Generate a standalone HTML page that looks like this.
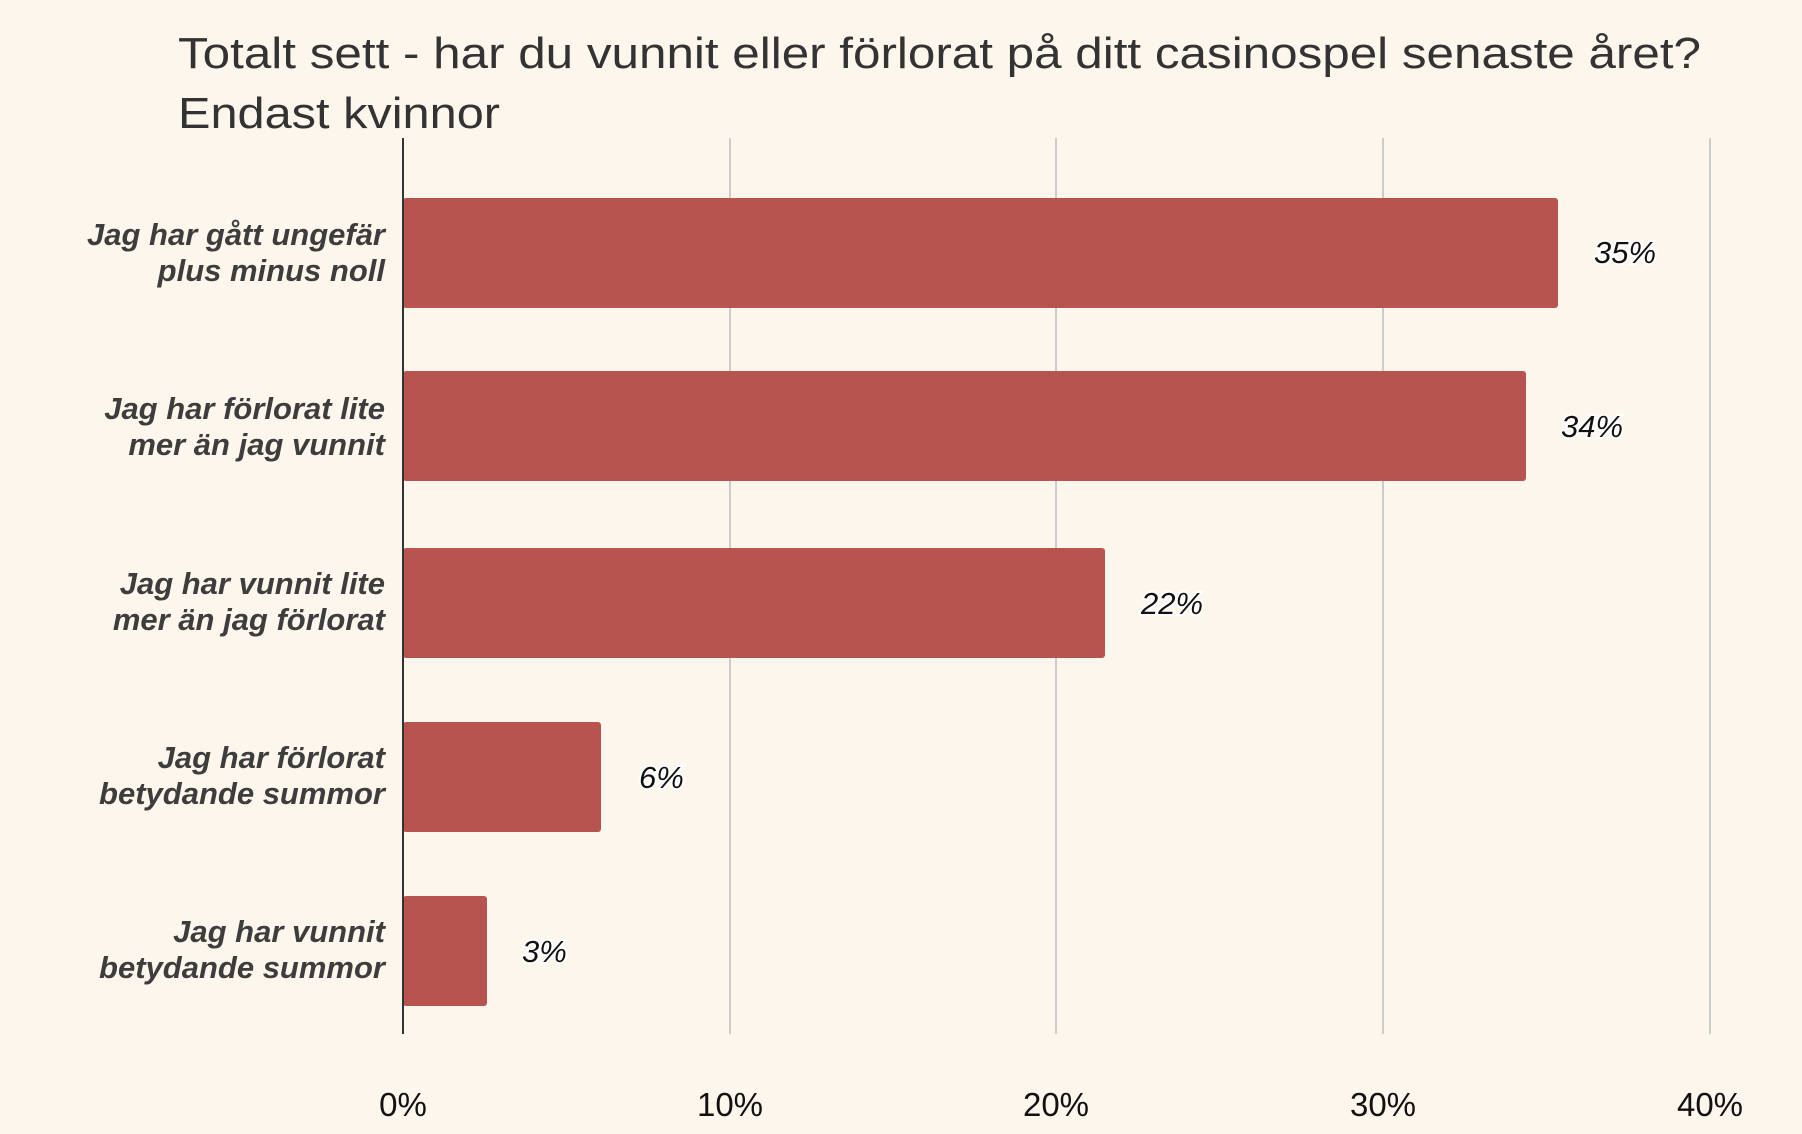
<!DOCTYPE html>
<html><head><meta charset="utf-8"><style>
html,body{margin:0;padding:0;background:#fdf6ec;}
svg{display:block;font-family:"Liberation Sans",sans-serif;}
</style></head><body>
<svg width="1802" height="1134" viewBox="0 0 1802 1134" xmlns="http://www.w3.org/2000/svg">
<rect width="1802" height="1134" fill="#fdf6ec"/>
<text x="178" y="68" font-size="44" fill="#333" textLength="1523" lengthAdjust="spacingAndGlyphs">Totalt sett - har du vunnit eller förlorat på ditt casinospel senaste året?</text>
<text x="178" y="128" font-size="44" fill="#333" textLength="322" lengthAdjust="spacingAndGlyphs">Endast kvinnor</text>
<g stroke="#ccc" stroke-width="2">
<line x1="730" y1="138" x2="730" y2="1034"/>
<line x1="1056" y1="138" x2="1056" y2="1034"/>
<line x1="1383" y1="138" x2="1383" y2="1034"/>
<line x1="1710" y1="138" x2="1710" y2="1034"/>
</g>
<g fill="#b85450">
<rect x="403" y="198" width="1155" height="110" rx="3"/>
<rect x="403" y="371" width="1123" height="110" rx="3"/>
<rect x="403" y="548" width="702" height="110" rx="3"/>
<rect x="403" y="722" width="198" height="110" rx="3"/>
<rect x="403" y="896" width="84" height="110" rx="3"/>
</g>
<line x1="403" y1="138" x2="403" y2="1034" stroke="#333" stroke-width="2"/>
<g font-size="31" font-weight="bold" font-style="italic" fill="#3d3d3d" text-anchor="end">
<text x="385" y="245">Jag har gått ungefär</text><text x="385" y="281">plus minus noll</text>
<text x="385" y="419">Jag har förlorat lite</text><text x="385" y="455">mer än jag vunnit</text>
<text x="385" y="594">Jag har vunnit lite</text><text x="385" y="630">mer än jag förlorat</text>
<text x="385" y="768">Jag har förlorat</text><text x="385" y="804">betydande summor</text>
<text x="385" y="942">Jag har vunnit</text><text x="385" y="978">betydande summor</text>
</g>
<g font-size="31" font-style="italic" fill="#111" stroke="#fff" stroke-width="4" paint-order="stroke">
<text x="1594" y="263">35%</text>
<text x="1561" y="437">34%</text>
<text x="1141" y="614">22%</text>
<text x="639" y="788">6%</text>
<text x="522" y="962">3%</text>
</g>
<g font-size="33" fill="#111" text-anchor="middle">
<text x="403" y="1116">0%</text>
<text x="730" y="1116">10%</text>
<text x="1056" y="1116">20%</text>
<text x="1383" y="1116">30%</text>
<text x="1710" y="1116">40%</text>
</g>
</svg>
</body></html>
